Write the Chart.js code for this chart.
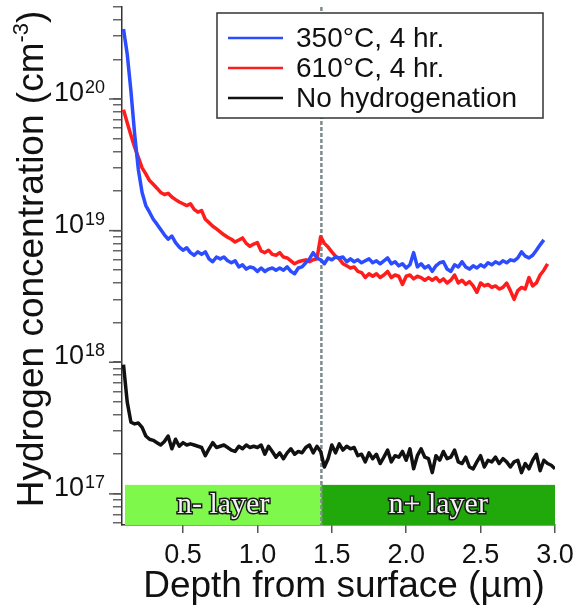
<!DOCTYPE html>
<html lang="en">
<head>
<meta charset="UTF-8">
<title>Hydrogen concentration depth profile</title>
<script src="https://cdn.jsdelivr.net/npm/chart.js@4.4.1/dist/chart.umd.min.js"></script>
<style>
  body { margin: 0; background: #fff; }
  #wrap { width: 579px; height: 609px; }
</style>
</head>
<body>
<div id="wrap"><canvas id="profile" width="579" height="609"></canvas></div>
<script>
// depth grid (µm) shared by the three SIMS profiles
const depth = [
  0.1, 0.125, 0.15, 0.175, 0.2, 0.225, 0.25, 0.275, 0.3, 0.325,
  0.35, 0.375, 0.4, 0.425, 0.45, 0.475, 0.5, 0.525, 0.55, 0.575,
  0.6, 0.625, 0.65, 0.675, 0.7, 0.725, 0.75, 0.775, 0.8, 0.825,
  0.85, 0.875, 0.9, 0.925, 0.95, 0.975, 1.0, 1.025, 1.05, 1.075,
  1.1, 1.125, 1.15, 1.175, 1.2, 1.225, 1.25, 1.275, 1.3, 1.325,
  1.35, 1.375, 1.4, 1.425, 1.45, 1.475, 1.5, 1.525, 1.55, 1.575,
  1.6, 1.625, 1.65, 1.675, 1.7, 1.725, 1.75, 1.775, 1.8, 1.825,
  1.85, 1.875, 1.9, 1.925, 1.95, 1.975, 2.0, 2.025, 2.05, 2.075,
  2.1, 2.125, 2.15, 2.175, 2.2, 2.225, 2.25, 2.275, 2.3, 2.325,
  2.35, 2.375, 2.4, 2.425, 2.45, 2.475, 2.5, 2.525, 2.55, 2.575,
  2.6, 2.625, 2.65, 2.675, 2.7, 2.725, 2.75, 2.775, 2.8, 2.825,
  2.85, 2.875, 2.9, 2.925, 2.95, 2.975, 3.0
];

// 350°C, 4 hr.
const h350 = [
  3.4e20, 2.2e20, 1.15e20, 5.4e19, 2.9e19, 1.95e19, 1.55e19, 1.38e19, 1.22e19, 1.12e19,
  1.02e19, 9.3e18, 8.6e18, 9.1e18, 8.1e18, 7.5e18, 7.1e18, 7.4e18, 6.8e18, 6.5e18,
  6.9e18, 6.6e18, 6.9e18, 6.1e18, 5.8e18, 6.3e18, 6.1e18, 6.3e18, 5.9e18, 5.7e18,
  5.9e18, 5.3e18, 5.5e18, 5.1e18, 5.3e18, 5.2e18, 4.9e18, 5.2e18, 4.9e18, 5.1e18,
  5.2e18, 5.0e18, 5.2e18, 5.0e18, 5.3e18, 4.9e18, 4.7e18, 5.2e18, 5.3e18, 5.7e18,
  6.1e18, 6.8e18, 6.2e18, 6.0e18, 5.6e18, 6.2e18, 6.0e18, 6.3e18, 6.2e18, 6.3e18,
  5.8e18, 6.1e18, 5.8e18, 6.0e18, 5.7e18, 5.9e18, 6.1e18, 5.7e18, 5.9e18, 5.6e18,
  5.9e18, 6.2e18, 5.6e18, 5.8e18, 5.4e18, 5.6e18, 5.2e18, 5.5e18, 6.8e18, 5.3e18,
  5.6e18, 5.2e18, 5.4e18, 4.9e18, 5.4e18, 5.7e18, 5.8e18, 5.1e18, 4.9e18, 5.5e18,
  5.3e18, 5.8e18, 5.3e18, 5.1e18, 5.4e18, 5.2e18, 5.5e18, 5.3e18, 5.7e18, 5.5e18,
  5.8e18, 5.6e18, 5.9e18, 5.7e18, 6.0e18, 5.9e18, 6.2e18, 6.9e18, 6.4e18, 6.2e18,
  6.5e18, 7.1e18, 7.8e18, 8.5e18
];

// 610°C, 4 hr.
const h610 = [
  8.3e19, 6.6e19, 5.3e19, 4.3e19, 3.6e19, 3.0e19, 2.7e19, 2.4e19, 2.25e19, 2.1e19,
  1.95e19, 1.88e19, 1.92e19, 1.8e19, 1.72e19, 1.65e19, 1.6e19, 1.55e19, 1.6e19, 1.45e19,
  1.38e19, 1.42e19, 1.22e19, 1.15e19, 1.08e19, 1.03e19, 9.8e18, 9.3e18, 8.9e18, 8.6e18,
  8.2e18, 8.5e18, 8.8e18, 8.0e18, 7.6e18, 7.9e18, 8.1e18, 7.0e18, 6.8e18, 7.1e18,
  6.6e18, 6.5e18, 6.8e18, 6.3e18, 6.2e18, 5.9e18, 5.6e18, 5.8e18, 5.9e18, 6.0e18,
  5.8e18, 6.0e18, 6.1e18, 9.0e18, 8.0e18, 7.5e18, 6.9e18, 6.4e18, 6.1e18, 5.6e18,
  5.4e18, 5.2e18, 5.3e18, 4.9e18, 4.8e18, 4.4e18, 4.7e18, 4.5e18, 4.7e18, 4.4e18,
  4.6e18, 4.9e18, 4.4e18, 4.6e18, 4.5e18, 3.9e18, 4.5e18, 4.6e18, 4.3e18, 4.5e18,
  4.4e18, 4.2e18, 4.4e18, 4.2e18, 4.4e18, 4.1e18, 4.3e18, 4.0e18, 4.2e18, 4.6e18,
  4.0e18, 4.2e18, 3.9e18, 4.1e18, 3.8e18, 3.4e18, 4.0e18, 3.8e18, 3.9e18, 3.7e18,
  3.8e18, 3.6e18, 3.7e18, 4.0e18, 3.5e18, 3.0e18, 3.5e18, 3.7e18, 3.6e18, 4.4e18,
  3.8e18, 4.0e18, 4.6e18, 5.0e18, 5.6e18
];

// no hydrogenation
const hNone = [
  9.6e17, 5.0e17, 3.5e17, 3.4e17, 3.45e17, 3.2e17, 2.75e17, 2.6e17, 2.55e17, 2.45e17,
  2.35e17, 2.5e17, 2.75e17, 2.2e17, 2.6e17, 2.3e17, 2.45e17, 2.35e17, 2.4e17, 2.35e17,
  2.3e17, 2.25e17, 1.95e17, 2.2e17, 2.45e17, 2.25e17, 2.3e17, 2.35e17, 2.25e17, 2.15e17,
  2.1e17, 2.3e17, 2.2e17, 2.35e17, 2.25e17, 2.3e17, 2.25e17, 2.35e17, 2.0e17, 2.3e17,
  2.1e17, 1.9e17, 2.05e17, 1.85e17, 2.05e17, 2.2e17, 2.0e17, 2.1e17, 2.05e17, 2.25e17,
  2.35e17, 2.05e17, 2.3e17, 2.1e17, 1.6e17, 1.85e17, 2.35e17, 2.05e17, 2.4e17, 2.15e17,
  2.3e17, 2.2e17, 2.25e17, 1.95e17, 2.0e17, 1.75e17, 2.05e17, 1.85e17, 2.0e17, 1.7e17,
  1.9e17, 2.15e17, 1.75e17, 1.95e17, 1.9e17, 2.1e17, 1.8e17, 2.2e17, 1.55e17, 1.95e17,
  2.2e17, 1.9e17, 1.85e17, 1.45e17, 1.95e17, 1.8e17, 2.1e17, 1.85e17, 1.9e17, 2.15e17,
  1.75e17, 1.7e17, 1.9e17, 1.6e17, 1.55e17, 1.75e17, 1.95e17, 1.6e17, 1.8e17, 1.75e17,
  1.9e17, 1.7e17, 1.85e17, 1.75e17, 1.6e17, 1.75e17, 1.8e17, 1.45e17, 1.7e17, 1.55e17,
  1.8e17, 2.0e17, 1.5e17, 1.8e17, 1.7e17, 1.65e17, 1.55e17
];

const seriesLabels = ['350\u00B0C, 4 hr.', '610\u00B0C, 4 hr.', 'No hydrogenation'];
const xTicks = [0.5, 1.0, 1.5, 2.0, 2.5, 3.0];
const yDecades = [17, 18, 19, 20];
const layerNames = ['n- layer', 'n+ layer'];
const layerEdges = [0.11, 1.43, 3.0];
const layerTop = 1.17e17;
const interfaceDepth = 1.43;

const SANS = '"Liberation Sans", Arial, sans-serif';
const pts = arr => arr.map((v, i) => ({ x: depth[i], y: v }));

// everything the axes need that Chart.js can't do itself (superscripts, boxes, legend)
const decor = {
  id: 'decor',
  beforeDatasetsDraw(chart) {
    const { ctx, chartArea: a, scales: { x, y } } = chart;
    const top = y.getPixelForValue(layerTop);
    const fills = ['#7df84b', '#21a80b'];
    ctx.save();
    for (let i = 0; i < layerNames.length; i++) {
      const l = x.getPixelForValue(layerEdges[i]);
      const r = x.getPixelForValue(layerEdges[i + 1]);
      ctx.fillStyle = fills[i];
      ctx.fillRect(l, top, r - l, a.bottom - top);
      ctx.font = '30px "Liberation Serif", "Times New Roman", serif';
      ctx.textAlign = 'center';
      ctx.textBaseline = 'middle';
      ctx.lineWidth = 3;
      ctx.strokeStyle = '#1a1a1a';
      ctx.strokeText(layerNames[i], (l + r) / 2, (top + a.bottom) / 2);
      ctx.fillStyle = '#f2f2f2';
      ctx.fillText(layerNames[i], (l + r) / 2, (top + a.bottom) / 2);
    }
    // interface marker
    const xi = x.getPixelForValue(interfaceDepth);
    ctx.strokeStyle = '#7e8c8c';
    ctx.lineWidth = 2.5;
    ctx.setLineDash([4, 2]);
    ctx.beginPath();
    ctx.moveTo(xi, a.top);
    ctx.lineTo(xi, a.bottom);
    ctx.stroke();
    ctx.restore();
  },
  afterDraw(chart) {
    const { ctx, chartArea: a, scales: { x, y } } = chart;
    ctx.save();

    // legend box
    ctx.fillStyle = '#fff';
    ctx.fillRect(217, 13, 326, 105);
    ctx.strokeStyle = '#333';
    ctx.lineWidth = 1.5;
    ctx.strokeRect(217, 13, 326, 105);
    ctx.font = '28px ' + SANS;
    ctx.textBaseline = 'middle';
    ctx.textAlign = 'left';
    chart.data.datasets.forEach((ds, i) => {
      const ly = 38 + i * 30;
      ctx.strokeStyle = ds.borderColor;
      ctx.lineWidth = 2.5;
      ctx.beginPath();
      ctx.moveTo(228, ly);
      ctx.lineTo(283, ly);
      ctx.stroke();
      ctx.fillStyle = '#111';
      ctx.fillText(ds.label, 296, ly + 1);
    });

    // longer major ticks on y
    ctx.strokeStyle = '#555';
    ctx.lineWidth = 1.5;
    yDecades.forEach(e => {
      const py = y.getPixelForValue(Math.pow(10, e));
      ctx.beginPath();
      ctx.moveTo(a.left - 13, py);
      ctx.lineTo(a.left, py);
      ctx.stroke();
    });

    // y tick labels 10^n
    ctx.fillStyle = '#111';
    ctx.textBaseline = 'alphabetic';
    yDecades.forEach(e => {
      const py = y.getPixelForValue(Math.pow(10, e));
      ctx.font = '27px ' + SANS;
      ctx.textAlign = 'right';
      ctx.fillText('10', 84, py + 2);
      ctx.font = '18px ' + SANS;
      ctx.textAlign = 'left';
      ctx.fillText(String(e), 85, py - 6);
    });

    // x tick labels
    ctx.font = '27px ' + SANS;
    ctx.textAlign = 'center';
    xTicks.forEach(v => {
      ctx.fillText(v.toFixed(1), x.getPixelForValue(v), 563);
    });

    // x title
    ctx.font = '37px ' + SANS;
    ctx.fillText('Depth from surface (\u00B5m)', 344, 597);

    // y title with superscript
    ctx.translate(43, 259);
    ctx.rotate(-Math.PI / 2);
    const big = '37px ' + SANS, small = '22px ' + SANS;
    const t1 = 'Hydrogen concentration (cm', t2 = '-3', t3 = ')';
    ctx.font = big;
    const w1 = ctx.measureText(t1).width, w3 = ctx.measureText(t3).width;
    ctx.font = small;
    const w2 = ctx.measureText(t2).width;
    let sx = -(w1 + w2 + w3) / 2;
    ctx.textAlign = 'left';
    ctx.font = big;
    ctx.fillText(t1, sx, 0);
    ctx.font = small;
    ctx.fillText(t2, sx + w1, -15);
    ctx.font = big;
    ctx.fillText(t3, sx + w1 + w2, 0);
    ctx.restore();
  }
};

new Chart(document.getElementById('profile'), {
  type: 'line',
  data: {
    datasets: [
      { label: seriesLabels[0], data: pts(h350), borderColor: '#2b4cff' },
      { label: seriesLabels[1], data: pts(h610), borderColor: '#ff1c1c' },
      { label: seriesLabels[2], data: pts(hNone), borderColor: '#111111' }
    ]
  },
  options: {
    responsive: false,
    animation: false,
    layout: { padding: { top: 7, right: 24, left: 0, bottom: 0 } },
    elements: {
      point: { radius: 0 },
      line: { borderWidth: 3.5, tension: 0, borderJoinStyle: 'round' }
    },
    plugins: { legend: { display: false }, tooltip: { enabled: false } },
    scales: {
      x: {
        type: 'linear',
        min: 0.09,
        max: 3.0,
        afterBuildTicks: s => { s.ticks = xTicks.map(v => ({ value: v })); },
        afterFit: s => { s.height = 84; },
        ticks: { display: false },
        grid: { drawOnChartArea: false, tickLength: 8, color: '#555', lineWidth: 1.5 },
        border: { color: '#333', width: 1.5 }
      },
      y: {
        type: 'logarithmic',
        min: 5.8e16,
        max: 5e20,
        afterBuildTicks: s => {
          const t = [];
          for (let e = 16; e <= 20; e++) {
            for (let m = 1; m <= 9; m++) {
              const v = m * Math.pow(10, e);
              if (v >= s.min && v <= s.max) t.push({ value: v, major: m === 1 });
            }
          }
          s.ticks = t;
        },
        afterFit: s => { s.width = 122; },
        ticks: { display: false },
        grid: { drawOnChartArea: false, tickLength: 9, color: '#666', lineWidth: 1.5 },
        border: { color: '#333', width: 1.5 }
      }
    }
  },
  plugins: [decor]
});
</script>
</body>
</html>
